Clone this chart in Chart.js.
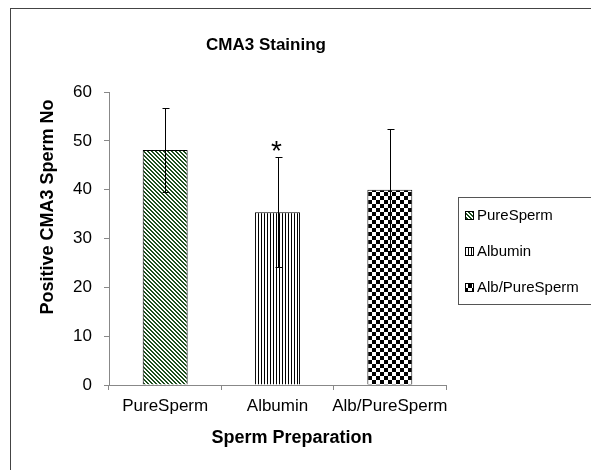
<!DOCTYPE html>
<html>
<head>
<meta charset="utf-8">
<script src="https://cdn.jsdelivr.net/npm/chart.js@4.4.0/dist/chart.umd.min.js"></script>
<style>
  html, body { margin: 0; padding: 0; background: #fff; overflow: hidden; }
  #wrap { position: relative; width: 591px; height: 470px; }
</style>
</head>
<body>
<div id="wrap"><canvas id="chart" width="591" height="470"></canvas></div>
<script>
// Data
const categories = ['PureSperm', 'Albumin', 'Alb/PureSperm'];
const means = [48.1, 35.4, 40.0];
const errors = [8.6, 11.2, 12.5];
const yTicks = [0, 10, 20, 30, 40, 50, 60];
const marked = [false, true, false];

const FONT = '"Liberation Sans", Arial, sans-serif';

// Fill patterns
function makePattern(kind) {
    const c = document.createElement('canvas');
    const ctx = c.getContext('2d');
    if (kind === 'diag') {
        c.width = 4; c.height = 4;
        ctx.fillStyle = '#fff';
        ctx.fillRect(0, 0, 4, 4);
        ctx.fillStyle = '#1d4f1d';
        for (let y = 0; y < 4; y++) {
            for (let x = 0; x < 4; x++) {
                const d = ((x - y) % 4 + 4) % 4;
                if (d < 2) ctx.fillRect(x, y, 1, 1);
            }
        }
    } else if (kind === 'vert') {
        c.width = 3; c.height = 3;
        ctx.fillStyle = '#fff';
        ctx.fillRect(0, 0, 3, 3);
        ctx.fillStyle = '#000';
        ctx.fillRect(0, 0, 1, 3);
    } else {
        c.width = 8; c.height = 8;
        ctx.fillStyle = '#fff';
        ctx.fillRect(0, 0, 8, 8);
        ctx.fillStyle = '#000';
        ctx.fillRect(0, 0, 4, 4);
        ctx.fillRect(4, 4, 4, 4);
    }
    return ctx.createPattern(c, 'repeat');
}

const fills = [makePattern('diag'), makePattern('vert'), makePattern('check')];

// Frame, titles, error bars, legend
const decorPlugin = {
    id: 'decor',
    beforeDraw(chart) {
        const ctx = chart.ctx;
        ctx.save();
        ctx.fillStyle = '#fff';
        ctx.fillRect(0, 0, chart.width, chart.height);
        ctx.strokeStyle = '#444';
        ctx.lineWidth = 1;
        ctx.strokeRect(10.5, 8.5, chart.width + 20, chart.height + 20);
        ctx.restore();
    },
    afterDatasetsDraw(chart) {
        const ctx = chart.ctx;
        const y = chart.scales.y;
        const meta = chart.getDatasetMeta(0);
        ctx.save();
        ctx.strokeStyle = '#000';
        ctx.lineWidth = 1;
        meta.data.forEach((bar, i) => {
            const cx = Math.round(bar.x) + 0.5;
            const top = Math.round(y.getPixelForValue(means[i] + errors[i])) + 0.5;
            const bot = Math.round(y.getPixelForValue(means[i] - errors[i])) + 0.5;
            ctx.beginPath();
            ctx.moveTo(cx, top); ctx.lineTo(cx, bot);
            ctx.moveTo(cx - 3, top); ctx.lineTo(cx + 4, top);
            ctx.moveTo(cx - 3, bot); ctx.lineTo(cx + 4, bot);
            ctx.stroke();
            if (marked[i]) {
                ctx.fillStyle = '#000';
                ctx.font = '28px ' + FONT;
                ctx.textAlign = 'center';
                ctx.textBaseline = 'middle';
                ctx.fillText('*', cx - 2, top - 5);
            }
        });
        ctx.restore();
    },
    afterDraw(chart) {
        const ctx = chart.ctx;
        ctx.save();
        ctx.fillStyle = '#000';
        ctx.textAlign = 'center';
        ctx.textBaseline = 'middle';

        // Chart title
        ctx.font = 'bold 17px ' + FONT;
        ctx.fillText('CMA3 Staining', 266, 45);

        // X axis title
        ctx.font = 'bold 18px ' + FONT;
        ctx.fillText('Sperm Preparation', 292, 438);

        // Y axis title
        ctx.save();
        ctx.translate(48, 207);
        ctx.rotate(-Math.PI / 2);
        ctx.fillText('Positive CMA3 Sperm No', 0, 0);
        ctx.restore();

        // Legend
        const lx = 458, ly = 197;
        ctx.strokeStyle = '#555';
        ctx.strokeRect(lx + 0.5, ly + 0.5, 150, 107);
        ctx.font = '15px ' + FONT;
        ctx.textAlign = 'left';
        categories.forEach((label, i) => {
            const cy = 215 + i * 36;
            ctx.fillStyle = fills[i];
            ctx.fillRect(465, cy - 4, 9, 9);
            ctx.strokeStyle = '#000';
            ctx.strokeRect(465.5, cy - 3.5, 8, 8);
            ctx.fillStyle = '#000';
            ctx.fillText(label, 477, cy + 1);
        });
        ctx.restore();
    }
};

const ctx = document.getElementById('chart').getContext('2d');
const chart = new Chart(ctx, {
    type: 'bar',
    data: {
        labels: categories,
        datasets: [{
            label: 'Positive CMA3 Sperm No',
            data: means,
            backgroundColor: fills,
            borderColor: '#000',
            borderWidth: 1,
            barPercentage: 0.4,
            categoryPercentage: 1
        }]
    },
    options: {
        responsive: false,
        animation: false,
        layout: {
            padding: { left: 10, right: 145, top: 92, bottom: 0 }
        },
        plugins: {
            legend: { display: false },
            title: { display: false },
            tooltip: { enabled: false }
        },
        scales: {
            x: {
                afterFit(scale) { scale.height = 85; },
                grid: {
                    offset: true,
                    drawOnChartArea: false,
                    drawTicks: true,
                    tickLength: 5,
                    color: '#888'
                },
                border: { color: '#888', width: 1 },
                ticks: {
                    color: '#000',
                    padding: 6,
                    autoSkip: false,
                    maxRotation: 0,
                    font: { family: FONT, size: 17 }
                }
            },
            y: {
                min: 0,
                max: 60,
                afterFit(scale) { scale.width = 99; },
                afterBuildTicks(scale) {
                    scale.ticks = yTicks.map(v => ({ value: v }));
                },
                grid: {
                    drawOnChartArea: false,
                    drawTicks: true,
                    tickLength: 5,
                    color: '#888'
                },
                border: { color: '#888', width: 1 },
                ticks: {
                    color: '#000',
                    padding: 12,
                    font: { family: FONT, size: 17 }
                }
            }
        }
    },
    plugins: [decorPlugin]
});
</script>
</body>
</html>
